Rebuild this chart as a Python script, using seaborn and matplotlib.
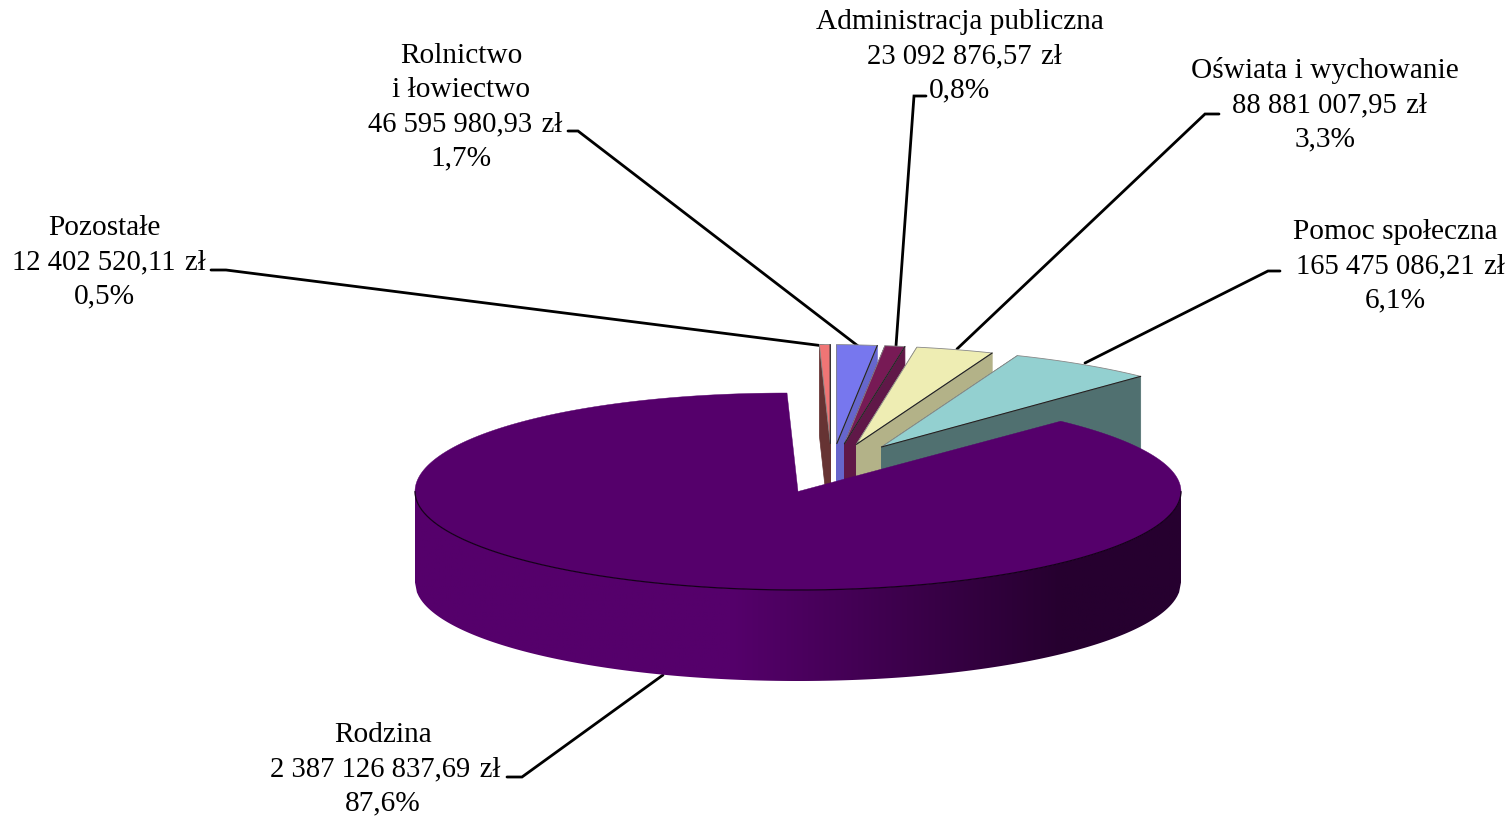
# Struktura wydatków wg działów - wykres kołowy 3D z wysuniętymi wycinkami
import numpy as np
import matplotlib
matplotlib.use("Agg")
import matplotlib.pyplot as plt
from matplotlib.patches import Polygon
import seaborn as sns

# ── Data ──────────────────────────────────────────────────────────────────────
categories = ["Pozostałe", "Rolnictwo\ni łowiectwo", "Administracja publiczna",
              "Oświata i wychowanie", "Pomoc społeczna", "Rodzina"]
values = [12402520.11, 46595980.93, 23092876.57, 88881007.95, 165475086.21, 2387126837.69]
value_labels = ["12 402 520,11 zł", "46 595 980,93 zł", "23 092 876,57 zł",
                "88 881 007,95 zł", "165 475 086,21 zł", "2 387 126 837,69 zł"]
percent_labels = ["0,5%", "1,7%", "0,8%", "3,3%", "6,1%", "87,6%"]

# ── Colours ───────────────────────────────────────────────────────────────────
top_colors = sns.color_palette(["#F07575", "#7777EE", "#771A55", "#EEEDB3", "#93D0D0", "#55006B"])
side_colors = sns.color_palette(["#663333", "#6666CC", "#601848", "#B3B288", "#507070"])
wall_cmap = sns.blend_palette(["#55006B", "#26002F"], as_cmap=True)

# ── Layout (pixels of the 1510x816 canvas) ────────────────────────────────────
CX, CY = 798, 491.5
RX, RY = 383, 98.5
RX_SMALL, RY_SMALL = 378, 99
DEPTH = 91
SKEW = 11
LINE_STEP = 34
FONT_SIZE = 21.2
VALUE_FONT_SIZE = 20.6
TEXT_DY = 2

label_x = [104, 461, 960, 1325, 1395, 383]
label_y = [226, 54, 20, 69, 230, 733]
value_dx = [4.5, 4, 4, 4, 5, 2]
leaders = [
    [(211, 270), (226, 270), (824, 346)],
    [(568, 131), (578, 131), (858, 346)],
    [(926, 96), (914, 96), (896, 346)],
    [(1219, 114), (1205, 114), (957, 349)],
    [(1280, 271), (1268, 271), (1085, 363)],
    [(507, 777), (522, 777), (663, 675)],
]


def rim(t, x0, y0, rx, ry):
    """Point on the tilted ellipse, the back half leans a bit to the left."""
    x = x0 + rx * np.cos(t) - SKEW * np.clip(np.sin(t), 0, None) ** 2
    y = y0 - ry * np.sin(t)
    return x, y


sns.set_theme(style="white")
plt.rcParams["font.family"] = ["Liberation Serif", "DejaVu Serif"]

fig, ax = plt.subplots(figsize=(15.10, 8.16), dpi=100)
fig.subplots_adjust(0, 0, 1, 1)

# slice angles, clockwise from 12 o'clock
shares = np.array(values) / np.sum(values)
ends = np.pi / 2 - 2 * np.pi * np.cumsum(shares)
starts = np.r_[np.pi / 2, ends[:-1]]

# ── Exploded small slices, back to front ──────────────────────────────────────
for i in range(5):
    mid = (starts[i] + ends[i]) / 2
    ax0 = CX + 95 * np.cos(mid) + 31
    ay0 = CY - (21 * np.sin(mid) + 27)
    t = np.linspace(starts[i], ends[i], 30)
    xs, ys = rim(t, ax0, ay0, RX_SMALL, RY_SMALL)
    # cut faces
    for k in (0, -1):
        ax.fill([ax0, xs[k], xs[k], ax0], [ay0, ys[k], ys[k] + DEPTH, ay0 + DEPTH],
                color=side_colors[i], lw=0.5, zorder=2 + i)
    ax.fill(np.r_[ax0, xs], np.r_[ay0, ys], facecolor=top_colors[i],
            edgecolor="#888888", lw=0.6, zorder=2 + i)
    ax.plot([ax0, xs[-1]], [ay0, ys[-1]], color="#222222", lw=0.8, zorder=2 + i)

# ── Big slice: wall with gradient, then top ───────────────────────────────────
edge_x = np.linspace(CX - RX, CX + RX, 400)
front = CY + RY * np.sqrt(np.clip(1 - ((edge_x - CX) / RX) ** 2, 0, 1))
wall_outline = np.r_[np.c_[edge_x, front], np.c_[edge_x[::-1], front[::-1] + DEPTH]]
shade = np.interp(edge_x, [CX - RX, 730, 1063, CX + RX], [0, 0, 1, 1])
wall = ax.imshow(shade[None, :], cmap=wall_cmap, vmin=0, vmax=1, aspect="auto", zorder=10,
                 extent=(CX - RX, CX + RX, CY + RY + DEPTH, CY))
wall.set_clip_path(Polygon(wall_outline, transform=ax.transData))

t = np.linspace(starts[5], ends[5], 400)
xs, ys = rim(t, CX, CY, RX, RY)
ax.fill(np.r_[CX, xs], np.r_[CY, ys], color=top_colors[5], lw=0.3, zorder=11)
t = np.linspace(np.pi, 2 * np.pi, 200)
xs, ys = rim(t, CX, CY, RX, RY)
ax.plot(xs, ys, color="#15001A", lw=0.9, zorder=12)

# ── Leader lines and labels ───────────────────────────────────────────────────
for pts in leaders:
    ax.plot(*zip(*pts), color="black", lw=2, solid_joinstyle="miter", zorder=1)
ax.lines[-1].set_zorder(9)

for cat, val, pct, x, y, dx in zip(categories, value_labels, percent_labels,
                                   label_x, label_y, value_dx):
    head = cat.split("\n")
    for j, line in enumerate(head):
        ax.text(x, y + TEXT_DY + j * LINE_STEP, line, ha="center", va="center",
                fontsize=FONT_SIZE, color="black")
    j = len(head)
    # wider gap before the currency, as in the original
    ax.text(x + dx, y + TEXT_DY + j * LINE_STEP, val.replace(" zł", "\u2004zł"), ha="center",
            va="center", fontsize=VALUE_FONT_SIZE, color="black")
    ax.text(x, y + TEXT_DY + (j + 1) * LINE_STEP, pct, ha="center", va="center",
            fontsize=FONT_SIZE, color="black")

ax.set_xlim(0, 1510)
ax.set_ylim(816, 0)
ax.axis("off")

plt.savefig("out.png", dpi=100)
